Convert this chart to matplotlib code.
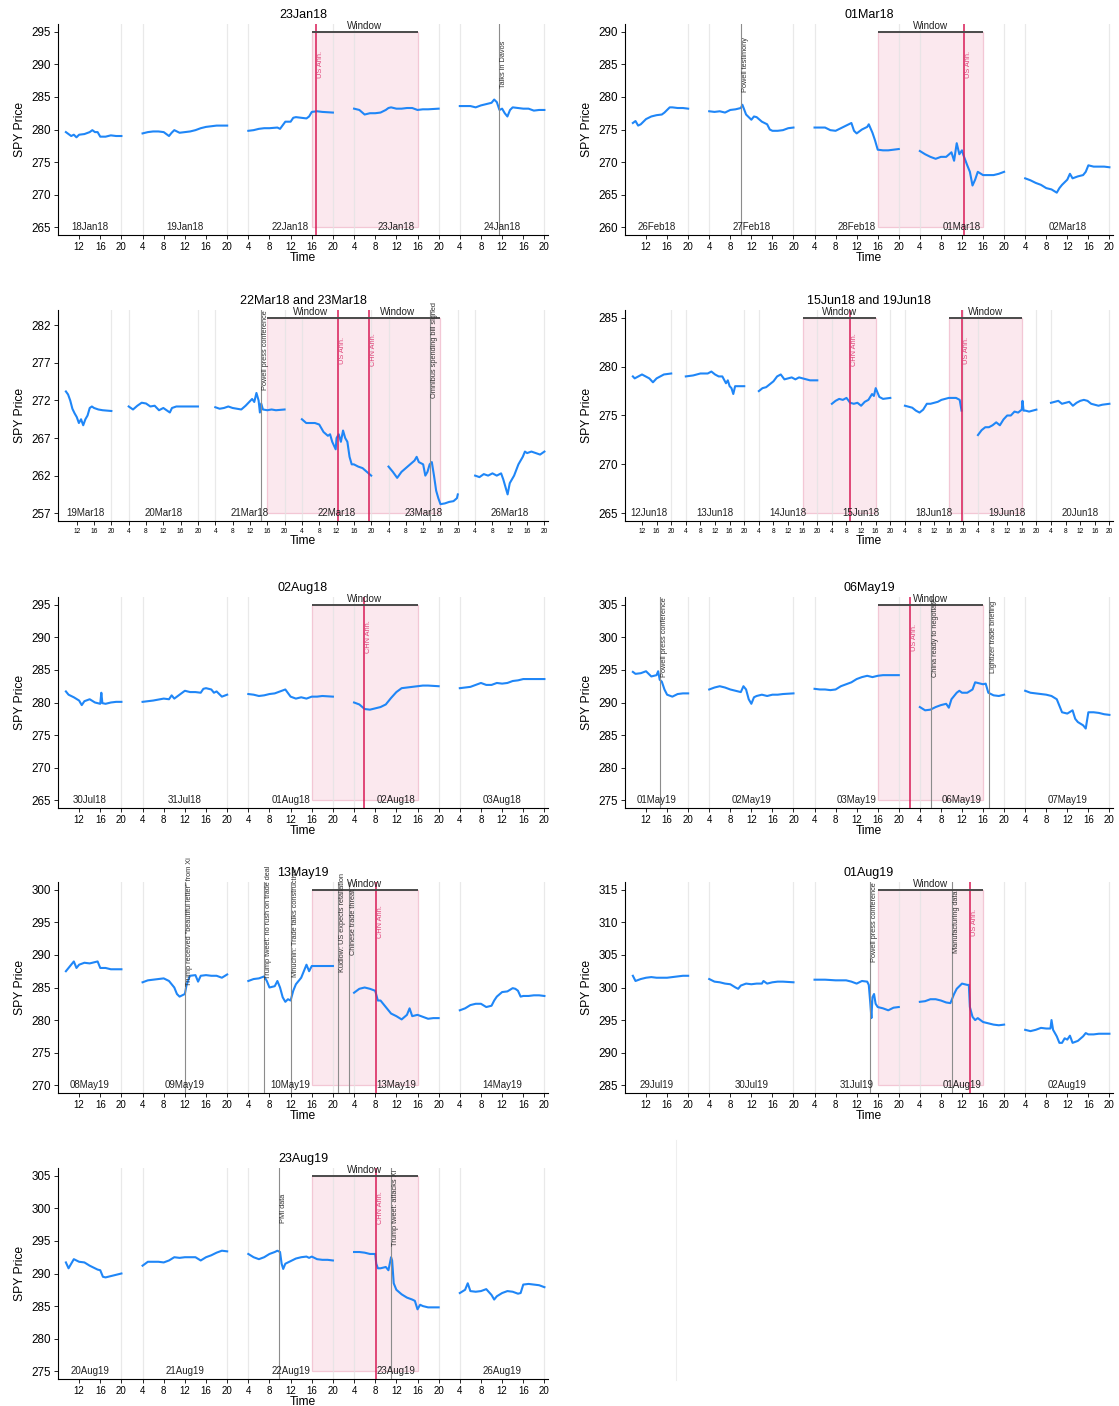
import matplotlib
matplotlib.use("Agg")
import matplotlib.pyplot as plt
import matplotlib.transforms as mtransforms
from matplotlib.patches import Rectangle
from matplotlib.lines import Line2D

plt.rcParams["font.family"] = ["Liberation Sans", "DejaVu Sans"]

# Each trading day spans 04:00-20:00 (extended hours) followed by a 4h overnight gap.
DAY_SPAN = 20

BLUE = "#1f86f7"
ANN_RED = "#d81b56"
ANN_TEXT = "#e0457a"
NEWS_GREY = "#8c8c8c"
WIN_FILL = "#fbe8ee"
WIN_EDGE = "#f3c7d5"
DAY_LINE = "#e4e4e4"

# ---------------------------------------------------------------- 23Jan18
P1_TITLE = "23Jan18"
P1_DAYS = ["18Jan18", "19Jan18", "22Jan18", "23Jan18", "24Jan18"]
P1_PRICES = [
    [(9.5, 279.6), (10, 279.3), (10.5, 279.0), (11, 279.2), (11.5, 278.8), (12, 279.2), (13, 279.3),
     (14, 279.6), (14.5, 279.9), (15, 279.6), (15.5, 279.6), (16, 278.9), (17, 278.9), (18, 279.1),
     (19, 279.0), (20, 279.0)],
    [(4, 279.4), (5, 279.6), (6, 279.7), (7, 279.7), (8, 279.6), (9, 279.0), (9.5, 279.5), (10, 279.9),
     (11, 279.5), (12, 279.6), (13, 279.7), (14, 279.9), (15, 280.2), (16, 280.4), (17, 280.5),
     (18, 280.6), (19, 280.6), (20, 280.6)],
    [(4, 279.8), (5, 279.9), (6, 280.1), (7, 280.2), (8, 280.2), (9.5, 280.3), (10, 280.1), (11, 281.2),
     (12, 281.2), (12.5, 281.8), (13, 281.9), (14, 281.8), (15, 281.7), (15.5, 282.0), (16, 282.7),
     (17, 282.8), (18, 282.7), (20, 282.6)],
    [(4, 283.2), (5, 283.0), (6, 282.3), (7, 282.5), (8, 282.5), (9, 282.6), (10, 283.0), (10.5, 283.3),
     (11, 283.4), (12, 283.2), (13, 283.2), (14, 283.3), (15, 283.3), (16, 283.0), (17, 283.1),
     (18, 283.1), (20, 283.2)],
    [(4, 283.6), (5, 283.6), (6, 283.6), (7, 283.4), (8, 283.7), (9, 283.9), (10, 284.1), (10.5, 284.6),
     (11, 284.2), (11.5, 283.0), (12, 283.2), (12.5, 282.5), (13, 282.0), (13.5, 283.0), (14, 283.4),
     (15, 283.3), (16, 283.2), (17, 283.2), (18, 282.9), (19, 283.0), (20, 283.0)],
]
P1_EVENTS = [(2, 16.75, "US Ann.", "ann"), (4, 11.4, "Talks in Davos", "news")]
P1_WINDOWS = [2]
P1_YTICKS = [265, 270, 275, 280, 285, 290, 295]
P1_BAND = (265, 295)

# ---------------------------------------------------------------- 01Mar18
P2_TITLE = "01Mar18"
P2_DAYS = ["26Feb18", "27Feb18", "28Feb18", "01Mar18", "02Mar18"]
P2_PRICES = [
    [(9.5, 276.0), (10, 276.3), (10.5, 275.6), (11, 275.8), (12, 276.6), (13, 277.0), (14, 277.2),
     (15, 277.3), (15.5, 277.6), (16, 278.0), (16.5, 278.4), (17, 278.4), (18, 278.3), (19, 278.3),
     (20, 278.2)],
    [(4, 277.8), (5, 277.7), (6, 277.8), (7, 277.6), (8, 278.0), (9, 278.1), (10, 278.3), (10.3, 278.8),
     (11, 277.3), (12, 276.5), (12.5, 277.0), (13, 276.9), (14, 276.2), (15, 275.8), (15.5, 275.0),
     (16, 274.8), (17, 274.8), (18, 274.9), (19, 275.2), (20, 275.3)],
    [(4, 275.3), (5, 275.3), (6, 275.3), (7, 274.9), (8, 274.8), (9, 275.2), (10, 275.6), (11, 276.0),
     (11.5, 274.8), (12, 274.4), (13, 275.0), (14, 275.4), (14.3, 275.8), (15, 274.5), (15.5, 273.3),
     (16, 271.9), (17, 271.8), (18, 271.8), (19, 271.9), (20, 272.0)],
    [(4, 271.7), (5, 271.2), (6, 270.8), (7, 270.5), (8, 270.8), (9, 270.8), (10, 271.5), (10.5, 270.2),
     (11, 272.9), (11.5, 271.2), (12, 271.8), (12.3, 271.0), (13, 269.5), (13.5, 268.5), (14, 266.4),
     (14.5, 267.3), (15, 268.5), (16, 268.0), (17, 268.0), (18, 268.0), (19, 268.2), (20, 268.5)],
    [(4, 267.5), (5, 267.2), (6, 266.8), (7, 266.5), (8, 266.0), (9, 265.8), (10, 265.3), (10.5, 266.0),
     (11, 266.5), (12, 267.3), (12.5, 268.2), (13, 267.5), (14, 267.8), (15, 268.0), (15.5, 268.5),
     (16, 269.5), (17, 269.3), (18, 269.3), (19, 269.3), (20, 269.2)],
]
P2_EVENTS = [(1, 10.1, "Powell testimony", "news"), (3, 12.3, "US Ann.", "ann")]
P2_WINDOWS = [2]
P2_YTICKS = [260, 265, 270, 275, 280, 285, 290]
P2_BAND = (260, 290)

# ---------------------------------------------------------------- 22Mar18 and 23Mar18
P3_TITLE = "22Mar18 and 23Mar18"
P3_DAYS = ["19Mar18", "20Mar18", "21Mar18", "22Mar18", "23Mar18", "26Mar18"]
P3_PRICES = [
    [(9.5, 273.2), (10, 272.8), (10.5, 272.0), (11, 270.9), (11.5, 270.3), (12, 269.8), (12.5, 269.0),
     (13, 269.5), (13.5, 268.7), (14, 269.5), (14.5, 270.0), (15, 271.0), (15.5, 271.2), (16, 271.0),
     (17, 270.8), (18, 270.7), (20, 270.6)],
    [(4, 271.2), (5, 270.8), (6, 271.3), (7, 271.7), (8, 271.6), (9, 271.2), (10, 271.3), (11, 270.7),
     (12, 271.0), (13, 270.6), (13.5, 270.4), (14, 271.0), (15, 271.2), (16, 271.2), (17, 271.2),
     (18, 271.2), (20, 271.2)],
    [(4, 271.1), (5, 270.9), (6, 271.0), (7, 271.2), (8, 271.0), (9, 270.9), (10, 270.8), (11, 271.3),
     (12, 271.9), (12.5, 272.2), (13, 271.8), (13.5, 273.0), (14, 272.0), (14.3, 270.4), (14.6, 271.6),
     (15, 270.8), (16, 270.7), (17, 270.8), (18, 270.7), (20, 270.8)],
    [(4, 269.5), (5, 269.0), (6, 269.0), (7, 269.0), (8, 268.8), (9, 267.8), (10, 267.3), (10.5, 267.5),
     (11, 266.5), (11.8, 265.5), (12, 267.0), (12.5, 267.5), (13, 266.5), (13.5, 268.0), (14, 267.0),
     (14.5, 266.5), (15, 264.5), (15.5, 263.5), (16, 263.5), (17, 263.2), (18, 263.0), (19, 262.5),
     (20, 262.0)],
    [(4, 263.2), (5, 262.5), (6, 261.7), (7, 262.5), (8, 263.0), (9, 263.5), (10, 264.0), (10.5, 264.5),
     (11, 263.8), (12, 263.5), (12.5, 262.0), (13, 262.5), (13.5, 263.5), (14, 263.8), (14.5, 262.0),
     (15, 260.0), (15.5, 259.0), (16, 258.2), (17, 258.3), (18, 258.5), (19, 258.6), (19.8, 259.0),
     (20, 259.5)],
    [(4, 262.0), (5, 261.8), (6, 262.2), (7, 262.0), (8, 262.3), (9, 262.0), (10, 262.3), (10.5, 261.5),
     (11, 260.5), (11.5, 259.5), (12, 261.0), (13, 262.0), (14, 263.5), (15, 264.5), (15.5, 265.2),
     (16, 265.0), (17, 265.2), (18, 265.0), (19, 264.8), (20, 265.2)],
]
P3_EVENTS = [(2, 14.5, "Powell press conference", "news"), (3, 12.4, "US Ann.", "ann"),
             (3, 19.5, "CHN Ann.", "ann"), (4, 13.5, "Omnibus spending bill signed", "news")]
P3_WINDOWS = [2, 3]
P3_YTICKS = [257, 262, 267, 272, 277, 282]
P3_BAND = (257, 283)

# ---------------------------------------------------------------- 15Jun18 and 19Jun18
P4_TITLE = "15Jun18 and 19Jun18"
P4_DAYS = ["12Jun18", "13Jun18", "14Jun18", "15Jun18", "18Jun18", "19Jun18", "20Jun18"]
P4_PRICES = [
    [(9.5, 279.0), (10, 278.8), (11, 279.0), (12, 279.2), (13, 279.0), (14, 278.8), (15, 278.4),
     (16, 278.8), (17, 279.0), (18, 279.2), (20, 279.3)],
    [(4, 279.0), (6, 279.1), (8, 279.3), (10, 279.3), (11, 279.5), (12, 279.2), (13, 279.0), (14, 279.0),
     (15, 278.3), (15.5, 278.6), (16, 278.0), (16.5, 277.8), (17, 277.2), (17.5, 278.0), (18, 278.0),
     (20, 278.0)],
    [(4, 277.5), (5, 277.8), (6, 277.9), (7, 278.2), (8, 278.5), (9, 279.0), (10, 279.2), (11, 278.7),
     (12, 278.8), (13, 278.9), (14, 278.7), (15, 278.9), (16, 278.8), (17, 278.7), (18, 278.6),
     (20, 278.6)],
    [(4, 276.2), (5, 276.5), (6, 276.7), (7, 276.6), (8, 276.8), (9, 276.3), (10, 276.2), (11, 276.3),
     (12, 276.0), (13, 276.4), (14, 276.6), (15, 277.2), (15.5, 277.0), (16, 277.8), (17, 276.9),
     (18, 276.7), (20, 276.8)],
    [(4, 276.0), (5, 275.9), (6, 275.8), (7, 275.5), (8, 275.3), (9, 275.6), (10, 276.2), (11, 276.2),
     (12, 276.3), (13, 276.4), (14, 276.6), (15, 276.7), (16, 276.8), (17, 276.8), (18, 276.8),
     (19, 276.6), (19.5, 275.5)],
    [(4, 273.0), (5, 273.5), (6, 273.8), (7, 273.8), (8, 274.0), (9, 274.3), (10, 274.0), (11, 274.6),
     (12, 275.0), (13, 275.0), (14, 275.4), (15, 275.3), (16, 275.6), (16.2, 276.5), (16.5, 275.5),
     (17, 275.5), (18, 275.4), (19, 275.5), (20, 275.6)],
    [(4, 276.3), (5, 276.4), (6, 276.5), (7, 276.2), (8, 276.3), (9, 276.4), (10, 276.0), (11, 276.3),
     (12, 276.5), (13, 276.6), (14, 276.5), (15, 276.2), (16, 276.1), (17, 276.0), (18, 276.1),
     (20, 276.2)],
]
P4_EVENTS = [(3, 9.0, "CHN Ann.", "ann"), (4, 19.7, "US Ann.", "ann")]
P4_WINDOWS = [2, 4]
P4_YTICKS = [265, 270, 275, 280, 285]
P4_BAND = (265, 285)

# ---------------------------------------------------------------- 02Aug18
P5_TITLE = "02Aug18"
P5_DAYS = ["30Jul18", "31Jul18", "01Aug18", "02Aug18", "03Aug18"]
P5_PRICES = [
    [(9.5, 281.7), (10, 281.2), (11, 280.8), (12, 280.3), (12.5, 279.6), (13, 280.2), (14, 280.5),
     (15, 280.0), (16, 279.8), (16.2, 281.5), (16.4, 279.9), (17, 279.8), (18, 280.0), (19, 280.1),
     (20, 280.1)],
    [(4, 280.1), (6, 280.3), (8, 280.6), (9, 280.5), (9.5, 281.1), (10, 280.6), (11, 281.2), (12, 281.8),
     (13, 281.6), (14, 281.6), (15, 281.5), (15.5, 282.1), (16, 282.2), (17, 282.0), (17.5, 281.5),
     (18, 281.7), (19, 280.9), (20, 281.2)],
    [(4, 281.3), (5, 281.2), (6, 281.0), (7, 281.1), (8, 281.3), (9, 281.4), (10, 281.7), (11, 282.0),
     (12, 280.9), (13, 280.6), (14, 280.8), (15, 280.6), (16, 280.9), (17, 280.9), (18, 281.0),
     (20, 280.9)],
    [(4, 280.0), (5, 279.7), (6, 279.0), (7, 278.9), (8, 279.1), (9, 279.3), (10, 279.7), (11, 280.7),
     (12, 281.6), (13, 282.2), (14, 282.3), (15, 282.4), (16, 282.5), (17, 282.6), (18, 282.6),
     (20, 282.5)],
    [(4, 282.2), (6, 282.4), (8, 283.0), (9, 282.7), (10, 282.7), (11, 283.0), (12, 282.9), (13, 283.0),
     (14, 283.3), (15, 283.4), (16, 283.6), (17, 283.6), (18, 283.6), (20, 283.6)],
]
P5_EVENTS = [(3, 5.8, "CHN Ann.", "ann")]
P5_WINDOWS = [2]
P5_YTICKS = [265, 270, 275, 280, 285, 290, 295]
P5_BAND = (265, 295)

# ---------------------------------------------------------------- 06May19
P6_TITLE = "06May19"
P6_DAYS = ["01May19", "02May19", "03May19", "06May19", "07May19"]
P6_PRICES = [
    [(9.5, 294.7), (10, 294.4), (11, 294.5), (12, 294.8), (13, 294.0), (14, 294.2), (14.3, 294.8),
     (14.6, 293.5), (15, 293.2), (15.5, 292.0), (16, 291.2), (17, 290.9), (18, 291.3), (19, 291.4),
     (20, 291.4)],
    [(4, 292.0), (5, 292.3), (6, 292.5), (7, 292.3), (8, 292.0), (9, 291.8), (10, 291.6), (10.5, 292.5),
     (11, 292.0), (11.5, 290.5), (12, 289.8), (12.5, 290.8), (13, 291.0), (14, 291.2), (15, 291.0),
     (16, 291.2), (17, 291.2), (18, 291.3), (20, 291.4)],
    [(4, 292.1), (5, 292.0), (6, 292.0), (7, 291.9), (8, 292.0), (9, 292.5), (10, 292.8), (11, 293.1),
     (12, 293.6), (13, 293.9), (14, 294.1), (15, 293.9), (16, 294.1), (17, 294.2), (18, 294.2),
     (19, 294.2), (20, 294.2)],
    [(4, 289.3), (5, 288.8), (6, 288.9), (7, 289.3), (8, 289.6), (9, 289.8), (9.5, 289.2), (10, 290.5),
     (11, 291.5), (11.5, 291.8), (12, 291.5), (13, 291.5), (14, 292.0), (14.5, 293.1), (15, 293.0),
     (16, 292.8), (16.5, 292.9), (17, 291.5), (17.5, 291.3), (18, 291.1), (19, 291.0), (20, 291.2)],
    [(4, 291.8), (5, 291.5), (6, 291.4), (7, 291.3), (8, 291.2), (9, 291.0), (10, 290.5), (10.5, 289.5),
     (11, 288.5), (12, 288.3), (13, 288.8), (13.5, 287.5), (14, 287.0), (15, 286.5), (15.5, 286.0),
     (16, 288.5), (17, 288.5), (18, 288.4), (19, 288.2), (20, 288.1)],
]
P6_EVENTS = [(0, 14.6, "Powell press conference", "news"), (2, 22.1, "US Ann.", "ann"),
             (3, 6.05, "China ready to negotiate", "news"), (3, 17.07, "Lightizer trade briefing", "news")]
P6_WINDOWS = [2]
P6_YTICKS = [275, 280, 285, 290, 295, 300, 305]
P6_BAND = (275, 305)

# ---------------------------------------------------------------- 13May19
P7_TITLE = "13May19"
P7_DAYS = ["08May19", "09May19", "10May19", "13May19", "14May19"]
P7_PRICES = [
    [(9.5, 287.5), (10, 288.0), (10.5, 288.5), (11, 289.0), (11.5, 288.0), (12, 288.5), (13, 288.8),
     (14, 288.7), (15, 288.9), (15.5, 289.0), (16, 288.0), (17, 288.0), (18, 287.8), (19, 287.8),
     (20, 287.8)],
    [(4, 285.8), (5, 286.1), (6, 286.2), (7, 286.3), (8, 286.4), (9, 286.0), (10, 285.0), (10.5, 284.0),
     (11, 283.6), (11.5, 283.8), (12, 284.0), (12.3, 285.3), (12.8, 286.5), (13, 286.8), (14, 286.9),
     (14.5, 285.9), (15, 286.8), (16, 286.9), (17, 286.8), (18, 286.8), (19, 286.5), (20, 287.0)],
    [(4, 286.0), (5, 286.3), (6, 286.4), (7, 286.7), (7.5, 286.0), (8, 285.0), (9, 285.2), (9.5, 286.0),
     (10, 285.0), (10.5, 283.5), (11, 282.8), (11.5, 283.2), (12, 283.0), (12.5, 284.5), (13, 285.5),
     (13.5, 286.0), (14, 286.5), (14.5, 287.5), (15, 288.5), (15.5, 287.5), (16, 288.3), (17, 288.3),
     (18, 288.3), (19, 288.3), (20, 288.3)],
    [(4, 284.2), (5, 284.8), (6, 285.0), (7, 284.8), (8, 284.5), (8.5, 283.0), (9, 283.0), (9.5, 282.5),
     (10, 282.0), (11, 281.0), (12, 280.6), (13, 280.1), (14, 280.8), (14.5, 281.8), (15, 280.6),
     (16, 280.8), (17, 280.5), (18, 280.2), (19, 280.3), (20, 280.3)],
    [(4, 281.5), (5, 281.8), (6, 282.3), (7, 282.5), (8, 282.5), (9, 282.0), (10, 282.2), (10.5, 283.0),
     (11, 283.6), (12, 284.3), (13, 284.4), (14, 284.9), (14.5, 284.8), (15, 284.5), (15.5, 283.6),
     (16, 283.7), (17, 283.7), (18, 283.8), (19, 283.8), (20, 283.7)],
]
P7_EVENTS = [(1, 12.1, "Trump received \"beautiful letter\" from Xi", "news"),
             (2, 6.9, "Trump tweet: no rush on trade deal", "news"),
             (2, 12.1, "Mnuchin: Trade talks constructive", "news"),
             (2, 21.0, "Kudlow: US expects retaliation", "news"),
             (2, 23.05, "Chinese trade threat", "news"),
             (3, 8.06, "CHN Ann.", "ann")]
P7_WINDOWS = [2]
P7_YTICKS = [270, 275, 280, 285, 290, 295, 300]
P7_BAND = (270, 300)

# ---------------------------------------------------------------- 01Aug19
P8_TITLE = "01Aug19"
P8_DAYS = ["29Jul19", "30Jul19", "31Jul19", "01Aug19", "02Aug19"]
P8_PRICES = [
    [(9.5, 301.8), (10, 301.0), (11, 301.3), (12, 301.5), (13, 301.6), (14, 301.5), (15, 301.5),
     (16, 301.5), (17, 301.6), (18, 301.7), (19, 301.8), (20, 301.8)],
    [(4, 301.3), (5, 300.9), (6, 300.8), (7, 300.6), (8, 300.5), (9, 300.0), (9.5, 299.8), (10, 300.3),
     (11, 300.6), (12, 300.5), (13, 300.6), (14, 300.6), (14.3, 301.0), (15, 300.6), (16, 300.8),
     (17, 300.9), (18, 300.9), (20, 300.8)],
    [(4, 301.2), (6, 301.2), (8, 301.1), (10, 301.1), (11, 300.9), (12, 300.6), (13, 301.0), (14, 300.9),
     (14.3, 300.4), (14.6, 297.5), (14.8, 295.3), (15, 298.5), (15.3, 299.0), (15.6, 297.5), (16, 297.0),
     (17, 296.8), (18, 296.5), (19, 296.9), (20, 297.0)],
    [(4, 297.8), (5, 297.9), (6, 298.2), (7, 298.2), (8, 298.0), (9, 297.7), (9.8, 297.6), (10, 298.0),
     (10.5, 299.0), (11, 299.8), (12, 300.6), (12.5, 300.5), (13, 300.4), (13.3, 300.4), (13.5, 297.0),
     (14, 295.5), (14.5, 295.0), (15, 295.3), (15.5, 295.0), (16, 294.7), (17, 294.5), (18, 294.3),
     (19, 294.2), (20, 294.3)],
    [(4, 293.5), (5, 293.3), (6, 293.5), (7, 293.8), (8, 293.7), (8.8, 293.7), (9, 295.0), (9.3, 293.5),
     (10, 292.5), (10.5, 291.5), (11, 291.5), (11.5, 292.2), (12, 292.0), (12.5, 292.6), (13, 291.5),
     (14, 291.8), (15, 292.5), (15.5, 293.0), (16, 292.8), (17, 292.8), (18, 292.9), (19, 292.9),
     (20, 292.9)],
]
P8_EVENTS = [(2, 14.57, "Powell press conference", "news"), (3, 10.1, "Manufacturing data", "news"),
             (3, 13.55, "US Ann.", "ann")]
P8_WINDOWS = [2]
P8_YTICKS = [285, 290, 295, 300, 305, 310, 315]
P8_BAND = (285, 315)

# ---------------------------------------------------------------- 23Aug19
P9_TITLE = "23Aug19"
P9_DAYS = ["20Aug19", "21Aug19", "22Aug19", "23Aug19", "26Aug19"]
P9_PRICES = [
    [(9.5, 291.7), (10, 290.8), (10.5, 291.5), (11, 292.2), (12, 291.8), (13, 291.7), (14, 291.2),
     (15, 290.8), (15.5, 290.6), (16, 290.5), (16.5, 289.5), (17, 289.4), (18, 289.6), (19, 289.8),
     (20, 290.0)],
    [(4, 291.2), (5, 291.8), (6, 291.8), (7, 291.8), (8, 291.7), (9, 292.0), (10, 292.5), (11, 292.4),
     (12, 292.5), (13, 292.5), (14, 292.5), (15, 292.0), (16, 292.5), (17, 292.8), (18, 293.2),
     (19, 293.5), (20, 293.4)],
    [(4, 293.0), (5, 292.5), (6, 292.2), (7, 292.5), (8, 293.0), (9, 293.3), (9.5, 293.5), (10, 293.3),
     (10.3, 291.5), (10.6, 290.7), (11, 291.5), (12, 291.9), (13, 292.3), (14, 292.5), (15, 292.6),
     (15.5, 292.4), (16, 292.6), (17, 292.2), (18, 292.1), (19, 292.1), (20, 292.0)],
    [(4, 293.3), (5, 293.3), (6, 293.2), (7, 293.0), (8, 293.0), (8.2, 291.5), (8.5, 290.8), (9, 290.8),
     (10, 291.0), (10.5, 290.5), (11, 292.5), (11.2, 292.0), (11.5, 288.5), (12, 287.5), (13, 286.8),
     (14, 286.3), (15, 286.0), (15.5, 285.8), (16, 284.5), (16.5, 285.2), (17, 285.0), (18, 284.8),
     (19, 284.8), (20, 284.8)],
    [(4, 287.0), (5, 287.5), (5.5, 288.5), (6, 287.3), (7, 287.2), (8, 287.3), (9, 287.6), (10, 286.7),
     (10.5, 286.0), (11, 286.5), (12, 287.0), (13, 287.3), (14, 287.2), (15, 286.9), (15.5, 287.0),
     (16, 288.3), (17, 288.4), (18, 288.3), (19, 288.2), (20, 287.9)],
]
P9_EVENTS = [(2, 9.76, "PMI data", "news"), (3, 8.1, "CHN Ann.", "ann"),
             (3, 11.05, "Trump tweet: attacks Xi", "news")]
P9_WINDOWS = [2]
P9_YTICKS = [275, 280, 285, 290, 295, 300, 305]
P9_BAND = (275, 305)

PANELS = [
    (P1_TITLE, P1_DAYS, P1_PRICES, P1_EVENTS, P1_WINDOWS, P1_YTICKS, P1_BAND),
    (P2_TITLE, P2_DAYS, P2_PRICES, P2_EVENTS, P2_WINDOWS, P2_YTICKS, P2_BAND),
    (P3_TITLE, P3_DAYS, P3_PRICES, P3_EVENTS, P3_WINDOWS, P3_YTICKS, P3_BAND),
    (P4_TITLE, P4_DAYS, P4_PRICES, P4_EVENTS, P4_WINDOWS, P4_YTICKS, P4_BAND),
    (P5_TITLE, P5_DAYS, P5_PRICES, P5_EVENTS, P5_WINDOWS, P5_YTICKS, P5_BAND),
    (P6_TITLE, P6_DAYS, P6_PRICES, P6_EVENTS, P6_WINDOWS, P6_YTICKS, P6_BAND),
    (P7_TITLE, P7_DAYS, P7_PRICES, P7_EVENTS, P7_WINDOWS, P7_YTICKS, P7_BAND),
    (P8_TITLE, P8_DAYS, P8_PRICES, P8_EVENTS, P8_WINDOWS, P8_YTICKS, P8_BAND),
    (P9_TITLE, P9_DAYS, P9_PRICES, P9_EVENTS, P9_WINDOWS, P9_YTICKS, P9_BAND),
]


def draw_panel(ax, title, days, prices, events, windows, yticks, band):
    n = len(days)
    lo, hi = band
    rng = hi - lo
    first = 9.5
    last = DAY_SPAN * (n - 1) + 20
    span = last - first
    small = n > 5

    # day separators at the start and end of each session
    for d in range(n):
        if d > 0:
            ax.axvline(d * DAY_SPAN + 4, color=DAY_LINE, lw=0.9, zorder=1.5, alpha=0.8)
        ax.axvline(d * DAY_SPAN + 20, color=DAY_LINE, lw=0.9, zorder=1.5, alpha=0.8)

    # event windows: 16:00 of the previous day to 16:00 of the event day
    spans = sorted(windows)
    merged = []
    for w in spans:
        if merged and merged[-1][1] == w:
            merged[-1][1] = w + 1
        else:
            merged.append([w, w + 1])
    for a, b in merged:
        x0 = a * DAY_SPAN + 16
        x1 = b * DAY_SPAN + 16
        ax.add_patch(Rectangle((x0, lo), x1 - x0, rng, facecolor=WIN_FILL,
                               edgecolor=WIN_EDGE, lw=0.9, zorder=1))
    for w in spans:
        x0 = w * DAY_SPAN + 16
        x1 = (w + 1) * DAY_SPAN + 16
        ax.plot([x0, x1], [hi, hi], color="#4a4a4a", lw=1.4, zorder=5, clip_on=False,
                solid_capstyle="butt")
        ax.text((x0 + x1) / 2, hi + 0.004 * rng, "Window", ha="center", va="bottom", fontsize=7.1,
                color="#222222", zorder=6)

    # SPY price, one segment per session
    for d, pts in enumerate(prices):
        xs = [d * DAY_SPAN + h for h, _ in pts]
        ys = [p for _, p in pts]
        ax.plot(xs, ys, color=BLUE, lw=1.5, zorder=3, solid_joinstyle="round")

    # dated events
    off = mtransforms.offset_copy(ax.transData, fig=ax.figure, x=1.0, y=0, units="dots")
    blend = mtransforms.blended_transform_factory(off, ax.transAxes)
    for d, h, label, kind in events:
        x = d * DAY_SPAN + h
        if kind == "ann":
            ax.axvline(x, color=ANN_RED, lw=1.1, zorder=4)
            tcol = ANN_TEXT
        else:
            ax.axvline(x, color=NEWS_GREY, lw=0.8, zorder=4)
            tcol = "#333333"
        ax.text(x, 0.81, label, transform=blend, rotation=90, ha="left", va="center",
                fontsize=5.3, color=tcol, zorder=6, clip_on=False)

    # session date labels along the bottom of the window band
    for d, name in enumerate(days):
        xc = d * DAY_SPAN + (14 if d == 0 else 12)
        ax.text(xc, lo, name, ha="center", va="center", fontsize=7.0, color="#222222", zorder=6)

    # hour ticks
    xt, xl = [], []
    for d in range(n):
        hours = [12, 16, 20] if d == 0 else [4, 8, 12, 16, 20]
        for h in hours:
            xt.append(d * DAY_SPAN + h)
            xl.append(str(h))
    ax.set_xticks(xt)
    ax.set_xticklabels(xl)
    ax.set_yticks(yticks)
    ax.set_xlim(first - 0.0165 * span, last + 0.0075 * span)
    ax.set_ylim(lo - 0.04 * rng, hi + 0.04 * rng)

    ax.tick_params(axis="x", labelsize=4.8 if small else 7.0, length=3, width=0.6, pad=2)
    ax.tick_params(axis="y", labelsize=8.4, length=3, width=0.6, pad=2)
    for s in ("top", "right"):
        ax.spines[s].set_visible(False)
    for s in ("left", "bottom"):
        ax.spines[s].set_linewidth(0.8)
    ax.set_xlabel("Time", fontsize=8.7, labelpad=0)
    ax.set_ylabel("SPY Price", fontsize=8.7, labelpad=4)
    ax.set_title(title, fontsize=9, pad=4)


W, H = 1119, 1406
fig = plt.figure(figsize=(W / 100, H / 100), dpi=100)
col_left = [58, 625]
col_width = [490, 488]
row_top = [24, 310, 597, 882, 1168]
ax_h = 211

for i, panel in enumerate(PANELS):
    r, c = divmod(i, 2)
    left = col_left[c] / W
    bottom = 1 - (row_top[r] + ax_h) / H
    ax = fig.add_axes([left, bottom, col_width[c] / W, ax_h / H])
    draw_panel(ax, *panel)

# border of the empty last cell
fig.add_artist(Line2D([676 / W, 676 / W], [1 - 1380 / H, 1 - 1140 / H], color="#eeeeee", lw=0.8))

fig.savefig("out.png", dpi=100, facecolor="white")
